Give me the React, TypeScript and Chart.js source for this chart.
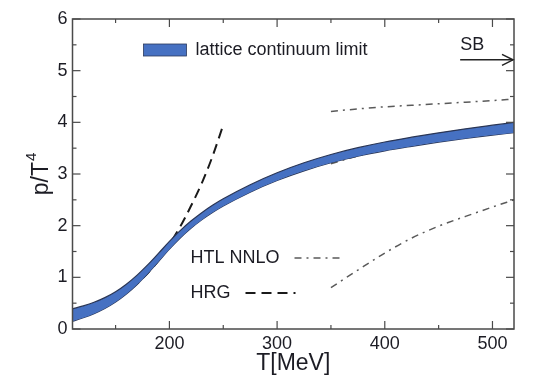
import React, { useEffect, useRef } from "react";
import { Chart, registerables } from "chart.js";

Chart.register(...registerables);

// ---- data ----
const bandT = [110, 120, 130, 140, 150, 160, 170, 180, 190, 200, 210, 220, 230, 240, 250, 275, 300, 325, 350, 375, 400, 425, 450, 475, 500, 520];
const bandUpper = [0.39, 0.447, 0.517, 0.607, 0.722, 0.867, 1.042, 1.245, 1.468, 1.695, 1.905, 2.089, 2.252, 2.395, 2.521, 2.793, 3.024, 3.217, 3.377, 3.509, 3.619, 3.712, 3.797, 3.875, 3.945, 3.999];
const bandLower = [0.15, 0.217, 0.297, 0.397, 0.522, 0.677, 0.862, 1.075, 1.308, 1.545, 1.761, 1.949, 2.112, 2.255, 2.381, 2.649, 2.874, 3.061, 3.217, 3.345, 3.449, 3.536, 3.617, 3.689, 3.753, 3.799];

const hrgT = [110, 130, 150, 170, 190, 200, 210, 220, 230, 240, 250];
const hrgP = [0.30, 0.42, 0.60, 0.88, 1.33, 1.64, 1.98, 2.38, 2.82, 3.34, 3.95];

const htlT = [350, 375, 400, 425, 450, 475, 500, 520];
const htlUpper = [4.21, 4.26, 4.30, 4.33, 4.36, 4.39, 4.42, 4.45];
const htlMiddle = [3.20, 3.35, 3.48, 3.58, 3.66, 3.73, 3.79, 3.83];
const htlLower = [0.80, 1.14, 1.47, 1.76, 1.99, 2.18, 2.36, 2.50];

const xTicks = [200, 300, 400, 500];
const xMinorTicks = [150, 250, 350, 450];
const yTicks = [0, 1, 2, 3, 4, 5, 6];
const yMinorTicks = [0.5, 1.5, 2.5, 3.5, 4.5, 5.5];

const sbValue = 5.21;
const sbArrowFrom = 470;
const sbArrowTo = 520;

const toXY = (xs: number[], ys: number[]) => xs.map((x, i) => ({ x, y: ys[i] }));

const FONT = "'Liberation Sans', Arial, Helvetica, sans-serif";
const BLUE = "#4671c2";
const FRAME = "#4a4a4a";
const HTL_COLOR = "#5a5a5a";
const TEXT = "#1c1c24";

const decorPlugin = {
  id: "decor",
  afterDatasetsDraw(chart: any) {
    const { ctx, chartArea, scales } = chart;
    const xs = scales.x;
    const ys = scales.y;
    const { left, right, top, bottom } = chartArea;
    ctx.save();
    // frame
    ctx.strokeStyle = FRAME;
    ctx.lineWidth = 1.5;
    ctx.strokeRect(left, top, right - left, bottom - top);
    // ticks
    ctx.lineWidth = 1.2;
    const seg = (x1: number, y1: number, x2: number, y2: number) => {
      ctx.beginPath();
      ctx.moveTo(x1, y1);
      ctx.lineTo(x2, y2);
      ctx.stroke();
    };
    xTicks.forEach((v) => {
      const px = xs.getPixelForValue(v);
      seg(px, bottom, px, bottom - 8);
      seg(px, top, px, top + 8);
    });
    xMinorTicks.forEach((v) => {
      const px = xs.getPixelForValue(v);
      seg(px, bottom, px, bottom - 4);
      seg(px, top, px, top + 4);
    });
    yTicks.forEach((v) => {
      const py = ys.getPixelForValue(v);
      seg(left, py, left + 8, py);
      seg(right, py, right - 8, py);
    });
    yMinorTicks.forEach((v) => {
      const py = ys.getPixelForValue(v);
      seg(left, py, left + 4, py);
      seg(right, py, right - 4, py);
    });

    // SB arrow
    const ay = ys.getPixelForValue(sbValue);
    const ax1 = xs.getPixelForValue(sbArrowFrom);
    const ax2 = xs.getPixelForValue(sbArrowTo) - 1;
    ctx.strokeStyle = "#222";
    ctx.lineWidth = 1.5;
    seg(ax1, ay, ax2, ay);
    ctx.beginPath();
    ctx.moveTo(ax2 - 11, ay - 5.5);
    ctx.lineTo(ax2, ay);
    ctx.lineTo(ax2 - 11, ay + 5.5);
    ctx.stroke();

    // texts
    ctx.fillStyle = TEXT;
    ctx.font = `18px ${FONT}`;
    ctx.textBaseline = "middle";
    ctx.textAlign = "left";
    ctx.fillText("SB", ax1, ay - 15);
    ctx.fillText("lattice continuum limit", left + 123, top + 31);
    ctx.fillText("HTL NNLO", left + 118, top + 239);
    ctx.fillText("HRG", left + 118, top + 274);

    // y axis title p/T^4
    ctx.save();
    ctx.translate(40, (top + bottom) / 2);
    ctx.rotate(-Math.PI / 2);
    ctx.font = `23px ${FONT}`;
    const base = "p/T";
    const wBase = ctx.measureText(base).width;
    ctx.font = `15px ${FONT}`;
    const wSup = ctx.measureText("4").width;
    const total = wBase + wSup + 1;
    ctx.textAlign = "left";
    ctx.textBaseline = "middle";
    ctx.font = `23px ${FONT}`;
    ctx.fillText(base, -total / 2, 2);
    ctx.font = `15px ${FONT}`;
    ctx.fillText("4", -total / 2 + wBase + 1, -8);
    ctx.restore();

    // lattice legend box
    ctx.fillStyle = BLUE;
    ctx.fillRect(left + 71, top + 25, 43, 12);
    ctx.strokeStyle = "#2c3a5c";
    ctx.lineWidth = 0.8;
    ctx.strokeRect(left + 71, top + 25, 43, 12);

    // HTL sample
    ctx.strokeStyle = HTL_COLOR;
    ctx.lineWidth = 1.5;
    ctx.setLineDash([7, 5, 2, 5]);
    seg(left + 222, top + 239, left + 272, top + 239);
    // HRG sample
    ctx.strokeStyle = "#1a1a1a";
    ctx.lineWidth = 2;
    ctx.setLineDash([10, 6]);
    seg(left + 173, top + 274, left + 223, top + 274);
    ctx.setLineDash([]);
    ctx.restore();
  },
};

export default function App() {
  const ref = useRef<HTMLCanvasElement | null>(null);
  useEffect(() => {
    document.body.style.margin = "0";
    document.body.style.background = "#ffffff";
    if (!ref.current) return;
    const htlStyle = {
      borderColor: HTL_COLOR,
      borderWidth: 1.5,
      borderDash: [7, 5, 2, 5],
      pointRadius: 0,
      fill: false,
      cubicInterpolationMode: "monotone" as const,
    };
    const chart = new Chart(ref.current, {
      type: "line",
      data: {
        datasets: [
          {
            label: "lattice upper",
            data: toXY(bandT, bandUpper),
            borderColor: "#2a3656",
            borderWidth: 1.2,
            backgroundColor: BLUE,
            pointRadius: 0,
            fill: "+1",
            cubicInterpolationMode: "monotone",
          },
          {
            label: "lattice lower",
            data: toXY(bandT, bandLower),
            borderColor: "#2a3656",
            borderWidth: 1.2,
            pointRadius: 0,
            fill: false,
            cubicInterpolationMode: "monotone",
          },
          {
            label: "HRG",
            data: toXY(hrgT, hrgP),
            borderColor: "#1a1a1a",
            borderWidth: 2,
            borderDash: [10, 6],
            pointRadius: 0,
            fill: false,
            cubicInterpolationMode: "monotone",
          },
          { label: "HTL upper", data: toXY(htlT, htlUpper), ...htlStyle },
          { label: "HTL middle", data: toXY(htlT, htlMiddle), ...htlStyle },
          { label: "HTL lower", data: toXY(htlT, htlLower), ...htlStyle },
        ],
      },
      options: {
        animation: false,
        responsive: false,
        maintainAspectRatio: false,
        layout: { padding: { left: 0, top: 19, right: 33, bottom: 0 } },
        plugins: { legend: { display: false }, tooltip: { enabled: false } },
        scales: {
          x: {
            type: "linear",
            min: 110,
            max: 520,
            grid: { display: false, drawTicks: false },
            border: { display: false },
            afterBuildTicks: (s: any) => {
              s.ticks = xTicks.map((v) => ({ value: v }));
            },
            afterFit: (s: any) => {
              s.height = 61;
            },
            ticks: {
              padding: 4,
              color: TEXT,
              font: { size: 18, family: FONT },
              maxRotation: 0,
            },
            title: {
              display: true,
              text: "T[MeV]",
              color: TEXT,
              font: { size: 23, family: FONT },
              padding: { top: 0, bottom: 13 },
            },
          },
          y: {
            type: "linear",
            min: 0,
            max: 6,
            grid: { display: false, drawTicks: false },
            border: { display: false },
            afterBuildTicks: (s: any) => {
              s.ticks = yTicks.map((v) => ({ value: v }));
            },
            afterFit: (s: any) => {
              s.width = 72.5;
            },
            ticks: {
              padding: 5,
              color: TEXT,
              font: { size: 18, family: FONT },
            },
          },
        },
      },
      plugins: [decorPlugin],
    });
    return () => chart.destroy();
  }, []);
  return (
    <div style={{ width: 547, height: 390, position: "relative" }}>
      <canvas ref={ref} width={547} height={390} style={{ width: 547, height: 390, display: "block" }} />
    </div>
  );
}
